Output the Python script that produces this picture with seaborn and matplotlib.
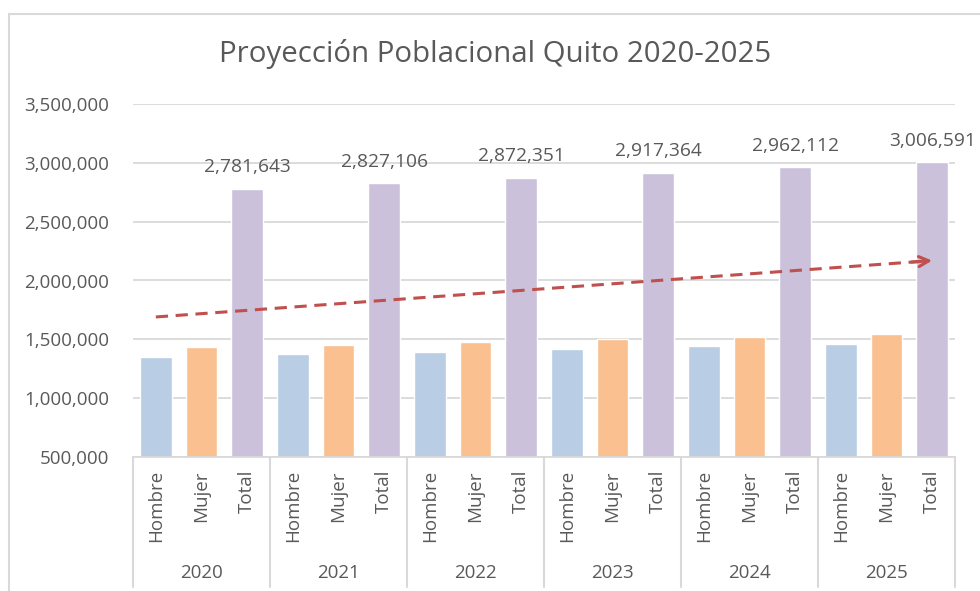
import matplotlib
matplotlib.use('Agg')
import matplotlib.pyplot as plt
import matplotlib.ticker as mticker
from matplotlib.lines import Line2D
import numpy as np
import pandas as pd
import seaborn as sns

# data
years = ['2020', '2021', '2022', '2023', '2024', '2025']
sexo = ['Hombre', 'Mujer', 'Total']
hombre = [1350500, 1373000, 1395300, 1417500, 1439700, 1461800]
mujer = [1431143, 1454106, 1477051, 1499864, 1522412, 1544791]
total = [2781643, 2827106, 2872351, 2917364, 2962112, 3006591]

colores = {'Hombre': '#B9CDE5', 'Mujer': '#FAC090', 'Total': '#CCC1DA'}
gris = '#595959'
linea = '#D9D9D9'

rows = []
for i, yr in enumerate(years):
    for s, vals in zip(sexo, [hombre, mujer, total]):
        rows.append({'slot': f'{yr}-{s}', 'year': yr, 'sexo': s, 'valor': vals[i]})
df = pd.DataFrame(rows)

sns.set_style('white')
plt.rcParams['font.family'] = ['Open Sans', 'DejaVu Sans']

fig = plt.figure(figsize=(9.8, 5.91), dpi=100)
ax = fig.add_axes([133/980, 1 - 457/591, (955 - 133)/980, (457 - 104)/591])

sns.barplot(data=df, x='slot', y='valor', hue='sexo', palette=colores,
            dodge=False, width=0.7, legend=False, ax=ax, saturation=1)

ax.set_xlim(-0.5, len(df) - 0.5)
ax.set_ylim(500000, 3500000)
ax.yaxis.set_major_locator(mticker.MultipleLocator(500000))
ax.yaxis.set_major_formatter(mticker.StrMethodFormatter('{x:,.0f}'))
ax.grid(axis='y', color=linea, linewidth=1.3)
ax.set_axisbelow(True)
for sp in ['top', 'right', 'left']:
    ax.spines[sp].set_visible(False)
ax.spines['bottom'].set_color(linea)
ax.spines['bottom'].set_linewidth(1.3)
ax.tick_params(axis='y', length=0, pad=17, labelsize=13.5, labelcolor=gris)
ax.set_xticks([])
ax.set_xlabel('')
ax.set_ylabel('')

# data labels on Total bars
for i, v in enumerate(df['valor']):
    if df['sexo'][i] == 'Total':
        ax.annotate(f'{v:,}', (i, v), xytext=(0, 9), textcoords='offset points',
                    ha='center', va='bottom', fontsize=13.8, color=gris)

# multi-level category axis
tr = ax.get_xaxis_transform()
for i, s in enumerate(df['sexo']):
    ax.text(i, -13/353, s, rotation=90, ha='center', va='top', fontsize=13.5,
            color=gris, transform=tr)
for g, yr in enumerate(years):
    ax.text(g*3 + 1, -116/353, yr, ha='center', va='center', fontsize=13.5,
            color=gris, transform=tr)
for g in range(len(years) + 1):
    ax.plot([g*3 - 0.5, g*3 - 0.5], [0, -130/353], color=linea, lw=1.5,
            transform=tr, clip_on=False)

# linear trend line
x = np.arange(len(df))
m, b = np.polyfit(x, df['valor'].values, 1)
xs = np.array([0, x[-1] - 0.25])
ax.plot(xs, m*xs + b, color='#C0504D', lw=2.2, dashes=(4, 2.5))
ax.annotate('', xy=(x[-1], m*x[-1] + b), xytext=(x[-1] - 0.45, m*(x[-1] - 0.45) + b),
            arrowprops=dict(arrowstyle='->', color='#C0504D', lw=2.2,
                            mutation_scale=18, shrinkA=0, shrinkB=0))

fig.text(0.505, 1 - 54/591, 'Proyección Poblacional Quito 2020-2025',
         ha='center', va='center', fontsize=21.2, color=gris)

# chart area border
fig.add_artist(Line2D([9/980, 9/980], [0, 1 - 14/591], color=linea, lw=1.5))
fig.add_artist(Line2D([9/980, 1], [1 - 14/591, 1 - 14/591], color=linea, lw=1.5))

plt.savefig('out.png', dpi=100)
